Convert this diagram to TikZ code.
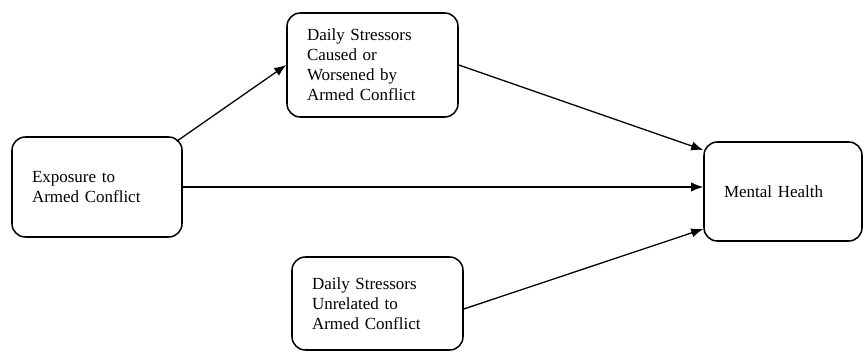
\documentclass[tikz,border=0pt]{standalone}
\usepackage{fontspec}
\setmainfont{Liberation Serif}
\usetikzlibrary{shapes,arrows.meta}
\tikzstyle{block} = [rectangle, draw, line width=1.3pt, fill=white,
    text width=3.93cm, align=left, inner xsep=0.6cm, rounded corners=0.4cm,
    font=\fontsize{14.5}{17}\selectfont]
\tikzstyle{line} = [draw, line width=1.1pt, -{Latex[length=3.6mm, width=2.8mm]}]

\begin{document}
\begin{tikzpicture}
		\useasboundingbox (0,0) rectangle (25.92,10.56);
		\node [block, text width=3.9cm, minimum height=3cm] (exposure) at (2.91,4.95) {Exposure to\\Armed Conflict};
		\node [block, minimum height=3.12cm] (caused) at (11.175,8.61) {Daily Stressors\\Caused or\\Worsened by\\Armed Conflict};
		\node [block, minimum height=2.79cm] (unrelated) at (11.325,1.455) {Daily Stressors\\Unrelated to\\Armed Conflict};
		\node [block, text width=3.54cm, minimum height=2.97cm] (health) at (23.49,4.815) {Mental Health};
		
		\path [line] ([xshift=-0.18cm, yshift=-0.15cm]exposure.north east) -- (caused.west);
		\path [line] (caused.east) -- ([yshift=1.245cm]health.west);
		\path [line] (exposure.east) -- (exposure.east -| health.west);
		\path [line] ([yshift=-0.165cm]unrelated.east) -- ([yshift=-1.125cm]health.west);
	\end{tikzpicture}
\end{document}
